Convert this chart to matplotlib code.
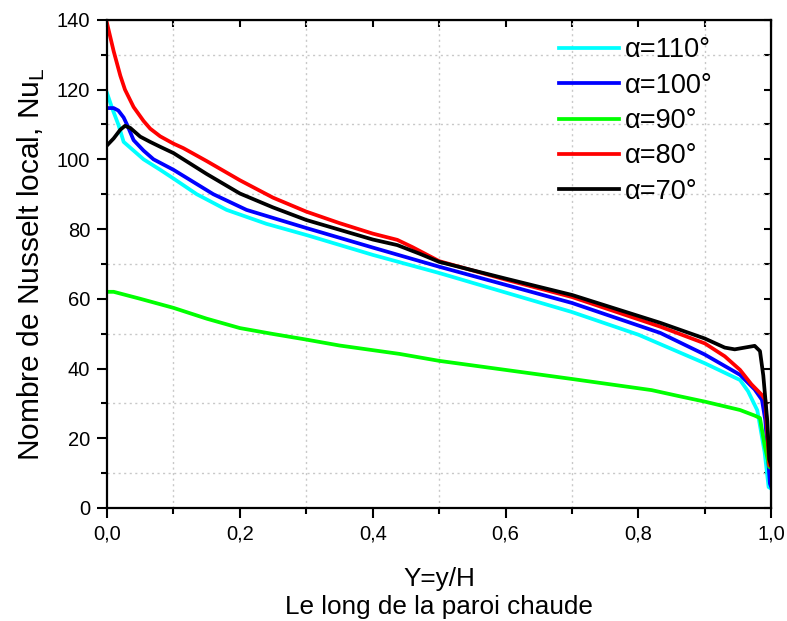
import numpy as np
import matplotlib
matplotlib.use("Agg")
import matplotlib.pyplot as plt
from matplotlib.ticker import MultipleLocator, FuncFormatter

# -------------------------------
# 1. Data (Y=y/H vs local Nusselt)
# -------------------------------
x_110 = [0.0, 0.008, 0.017, 0.025, 0.04, 0.055, 0.08, 0.1, 0.135, 0.18, 0.24, 0.3,
         0.4, 0.5, 0.6, 0.7, 0.8, 0.9, 0.953, 0.965, 0.979, 0.99, 0.996, 1.0]
nu_110 = [119, 114.5, 110, 105, 102.5, 100, 97, 94.5, 90, 85.5, 81.5, 78.3,
          72.6, 67.4, 61.8, 56.2, 49.7, 41.5, 36.7, 33.5, 28, 16, 6, 5.5]

x_100 = [0.0, 0.01, 0.017, 0.025, 0.03, 0.04, 0.055, 0.07, 0.1, 0.16, 0.21, 0.3,
         0.4, 0.5, 0.6, 0.7, 0.833, 0.9, 0.953, 0.975, 0.986, 0.991, 0.998, 1.0]
nu_100 = [114.7, 114.7, 114, 112, 110, 105.5, 102.5, 100, 97, 90, 85.5, 80.3,
          74.7, 69.2, 64, 58.8, 50.2, 44, 38.2, 34, 31, 25.2, 7, 6]

x_90 = [0.0, 0.01, 0.02, 0.05, 0.1, 0.15, 0.2, 0.25, 0.3, 0.35, 0.44, 0.5,
        0.6, 0.7, 0.82, 0.863, 0.9, 0.953, 0.975, 0.983, 0.99, 0.997, 1.0]
nu_90 = [62, 62, 61.5, 60, 57.4, 54.3, 51.6, 49.9, 48.3, 46.6, 44.2, 42.2,
         39.6, 37, 33.8, 32, 30.5, 28.1, 26.5, 25.8, 18, 11.8, 11.5]

x_80 = [0.0, 0.01, 0.02, 0.027, 0.04, 0.055, 0.065, 0.08, 0.1, 0.115, 0.15, 0.2,
        0.25, 0.3, 0.35, 0.4, 0.437, 0.46, 0.486, 0.5, 0.6, 0.7, 0.833, 0.9,
        0.93, 0.953, 0.97, 0.986, 0.991, 0.997, 1.0]
nu_80 = [139, 131, 124, 120, 115, 111, 108.8, 106.6, 104.5, 103.2, 99.5, 94,
         89, 85, 81.7, 78.7, 76.9, 74.8, 72.2, 70.8, 65.5, 60.5, 52, 47.2,
         43.5, 39.6, 35.5, 32.4, 31, 12.3, 12]

x_70 = [0.0, 0.01, 0.02, 0.027, 0.035, 0.05, 0.065, 0.08, 0.1, 0.15, 0.2, 0.25,
        0.3, 0.4, 0.437, 0.471, 0.5, 0.6, 0.7, 0.833, 0.9, 0.93, 0.945, 0.96,
        0.975, 0.983, 0.988, 0.994, 0.997, 1.0]
nu_70 = [104, 106, 108.5, 109.6, 109, 106.5, 105, 103.6, 101.8, 95.8, 90.2, 86.2,
         82.6, 77, 75.4, 72.9, 70.6, 65.8, 61.1, 53.1, 48.6, 46, 45.5, 46,
         46.5, 45, 38, 25, 14, 12]

series = [
    (x_110, nu_110, "#00FFFF", "\u03b1=110\u00b0"),
    (x_100, nu_100, "#0000FF", "\u03b1=100\u00b0"),
    (x_90, nu_90, "#00FF00", "\u03b1=90\u00b0"),
    (x_80, nu_80, "#FF0000", "\u03b1=80\u00b0"),
    (x_70, nu_70, "#000000", "\u03b1=70\u00b0"),
]

# -------------------------------
# 2. Figure
# -------------------------------
plt.rcParams['font.family'] = ['Liberation Sans', 'DejaVu Sans']
plt.rcParams['mathtext.fontset'] = 'custom'
plt.rcParams['mathtext.rm'] = 'Liberation Sans'

fig = plt.figure(figsize=(7.87, 6.21), dpi=100)
ax = fig.add_axes([0.136, 0.182, 0.844, 0.786])

for xs, ys, col, lab in series:
    ax.plot(xs, ys, color=col, lw=2.7, label=lab, solid_joinstyle='round')

ax.set_xlim(0, 1)
ax.set_ylim(0, 140)
ax.xaxis.set_major_locator(MultipleLocator(0.2))
ax.xaxis.set_minor_locator(MultipleLocator(0.1))
ax.yaxis.set_major_locator(MultipleLocator(20))
ax.yaxis.set_minor_locator(MultipleLocator(10))
ax.xaxis.set_major_formatter(FuncFormatter(lambda v, p: f"{v:.1f}".replace('.', ',')))

ax.grid(which='minor', linestyle=(0, (1.5, 2.5)), color='#c8c8c8', linewidth=1.0)
ax.grid(which='major', visible=False)

ax.tick_params(which='major', direction='out', length=7, width=1.5, labelsize=14.5, pad=5)
ax.tick_params(which='minor', direction='out', length=4, width=1.5)
for s in ax.spines.values():
    s.set_linewidth(1.6)

# inward ticks on top and right, Origin style
top = ax.secondary_xaxis('top')
top.xaxis.set_major_locator(MultipleLocator(0.2))
top.xaxis.set_minor_locator(MultipleLocator(0.1))
top.tick_params(which='both', direction='in', length=5, width=1.5, labeltop=False)
right = ax.secondary_yaxis('right')
right.yaxis.set_major_locator(MultipleLocator(20))
right.yaxis.set_minor_locator(MultipleLocator(10))
right.tick_params(which='both', direction='in', length=5, width=1.5, labelright=False)

ax.set_xlabel("Y=y/H\nLe long de la paroi chaude", fontsize=18.8, linespacing=1.2, labelpad=17)
ax.set_ylabel(r"Nombre de Nusselt local, Nu$_\mathregular{L}$", fontsize=21.5, labelpad=7)

ax.legend(loc='upper right', bbox_to_anchor=(0.947, 1.012), frameon=False, fontsize=19.5,
          handlelength=2.2, handletextpad=0.25, labelspacing=0.35, borderpad=0.35)

fig.savefig("out.png", dpi=100)
